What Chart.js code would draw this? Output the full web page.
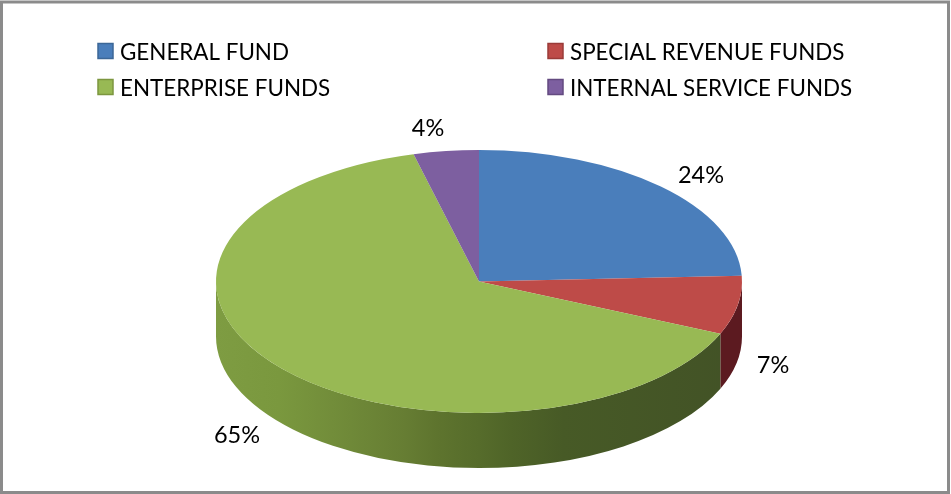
<!DOCTYPE html>
<html><head><meta charset="utf-8">
<style>html,body{margin:0;padding:0;background:#fff}canvas{display:block}</style>
<script src="https://cdn.jsdelivr.net/npm/chart.js@4"></script></head>
<body><canvas id="c" width="951" height="494"></canvas>
<script>
const categories = ['GENERAL FUND','SPECIAL REVENUE FUNDS','ENTERPRISE FUNDS','INTERNAL SERVICE FUNDS'];
const values = [24.3,7.2,64.5,4];
const topColors = ['#4a7ebb','#be4b48','#98b954','#7d5fa0'];
const swatchBorders = ['#3c6797','#9a3b38','#7c963f','#634a80'];
const tilt = 131.5/263, depth = 55;
const labelAnchors = [[701,175],[773,365],[237,435],[428,128]];
const legendCells = [[98,51.5],[548,51.5],[98,87.5],[548,87.5]];
const LABEL_FONT = '23.5px Lato';
const LEGEND_FONT = '22.4px Lato';

function sidePath(ctx,x,y,r,a0,a1){
  ctx.beginPath();
  ctx.ellipse(x,y,r,r*tilt,0,a0,a1,false);
  ctx.ellipse(x,y+depth,r,r*tilt,0,a1,a0,true);
  ctx.closePath();
}
const pie3d = {
  id:'pie3d',
  beforeDraw(chart){
    const {ctx,width,height}=chart;
    ctx.save();
    ctx.fillStyle='#fff';ctx.fillRect(0,0,width,height);
    ctx.strokeStyle='#8b8b8b';ctx.lineWidth=3;
    ctx.strokeRect(1.5,2,width-4,height-3.5);
    ctx.restore();
  },
  beforeDatasetsDraw(chart){
    const {ctx}=chart, arcs=chart.getDatasetMeta(0).data;
    const a=arcs[0], x=a.x, y=a.y, r=a.outerRadius;
    const g=ctx.createLinearGradient(x-r,0,x+r,0);
    g.addColorStop(0,'#7e9c42');g.addColorStop(.12,'#7a983e');g.addColorStop(.22,'#728d3a');
    g.addColorStop(.36,'#667d33');g.addColorStop(.42,'#5e742e');g.addColorStop(.5,'#566c2b');
    g.addColorStop(.56,'#4f6428');g.addColorStop(.66,'#475a26');g.addColorStop(1,'#425226');
    const sideFill=[null,'#5c1a20',g,null];
    ctx.save();
    arcs.forEach((el,i)=>{
      if(!sideFill[i])return;
      const a0=Math.max(el.startAngle,0), a1=Math.min(el.endAngle,Math.PI);
      if(a1<=a0)return;
      sidePath(ctx,x,y,r,a0,a1);
      ctx.fillStyle=sideFill[i];ctx.fill();
    });
    ctx.restore();
    ctx.save();
    ctx.translate(x,y);ctx.scale(1,tilt);ctx.translate(-x,-y);
  },
  afterDatasetsDraw(chart){
    const {ctx}=chart;
    ctx.restore();
    ctx.save();
    ctx.font=LABEL_FONT;ctx.fillStyle='#000';ctx.textBaseline='middle';
    ctx.textAlign='center';
    values.forEach((v,i)=>ctx.fillText(Math.round(v)+'%',labelAnchors[i][0],labelAnchors[i][1]));
    ctx.textAlign='left';
    ctx.font=LEGEND_FONT;
    chart.data.labels.forEach((t,i)=>{
      const [lx,ly]=legendCells[i];
      ctx.fillStyle=topColors[i];ctx.strokeStyle=swatchBorders[i];ctx.lineWidth=1.5;
      ctx.fillRect(lx,ly-8,15,15);ctx.strokeRect(lx,ly-8,15,15);
      ctx.fillStyle='#000';
      ctx.fillText(t,lx+22,ly+1);
    });
    ctx.restore();
  }
};
new Chart(document.getElementById('c'),{
  type:'pie',
  data:{labels:categories,datasets:[{data:values,backgroundColor:topColors,borderWidth:0,clip:false}]},
  options:{responsive:false,animation:false,radius:263,
    layout:{padding:{top:69,left:7,right:0,bottom:0}},
    plugins:{legend:{display:false},tooltip:{enabled:false}}},
  plugins:[pie3d]
});
</script></body></html>
